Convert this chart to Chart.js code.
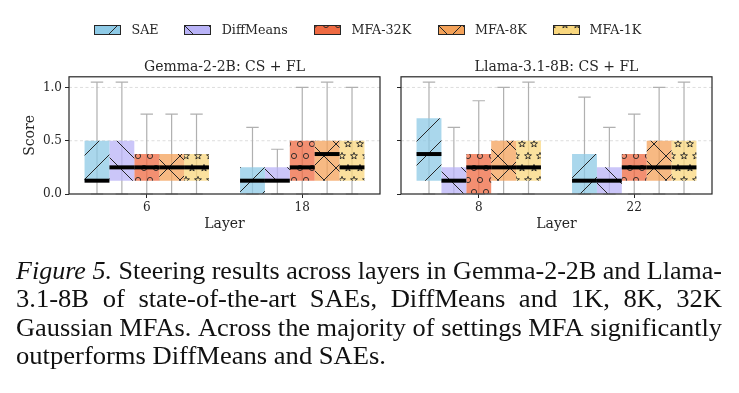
<!DOCTYPE html>
<html>
<head>
<meta charset="utf-8">
<script src="https://cdn.jsdelivr.net/npm/chart.js@4.4.1/dist/chart.umd.min.js"></script>
<style>
html, body { margin: 0; padding: 0; background: #fff; }
#wrap { position: relative; width: 739px; height: 393px; overflow: hidden; }
canvas { position: absolute; top: 0; }
#c1 { left: 0; }
#c2 { left: 390px; }
#cap { left: 0; top: 240px; }
.legtxt { position: absolute; font-family: 'DejaVu Serif'; font-size: 12.7px; line-height: 14px; color: #262626; white-space: nowrap; }
</style>
</head>
<body>
<div id="wrap">
  <canvas id="c1" width="390" height="240"></canvas>
  <canvas id="c2" width="349" height="240"></canvas>
  <canvas id="cap" width="739" height="153"></canvas>
  <div id="legend"></div>
</div>
<script>
// series and categories
const seriesNames = ['SAE', 'DiffMeans', 'MFA-32K', 'MFA-8K', 'MFA-1K'];
const seriesColors = ['#8ecae6', '#b9b3f7', '#ef6a42', '#f4a259', '#f9d77e'];
const seriesHatch = ['/', '\\', 'o', 'x', '*'];
const gemmaLayers = ['6', '18'];
const llamaLayers = ['8', '22'];
const yTicks = [0, 0.5, 1.0];

// Gemma-2-2B, [series][layer]
const gemmaQ1     = [[0.125, 0], [0.125, 0.125], [0.125, 0.125], [0.125, 0.125], [0.125, 0.125]];
const gemmaQ3     = [[0.5, 0.25], [0.5, 0.25], [0.375, 0.5], [0.375, 0.5], [0.375, 0.5]];
const gemmaMedian = [[0.125, 0.125], [0.25, 0.125], [0.25, 0.25], [0.25, 0.375], [0.25, 0.25]];
const gemmaLow    = [[0, 0], [0, 0], [0, 0], [0, 0], [0, 0]];
const gemmaHigh   = [[1.05, 0.625], [1.05, 0.42], [0.75, 1.0], [0.75, 1.05], [0.75, 1.0]];

// Llama-3.1-8B, [series][layer]
const llamaQ1     = [[0.125, 0], [0, 0], [0, 0.125], [0.125, 0.125], [0.125, 0.125]];
const llamaQ3     = [[0.71, 0.375], [0.25, 0.25], [0.375, 0.375], [0.5, 0.5], [0.5, 0.5]];
const llamaMedian = [[0.375, 0.125], [0.125, 0.125], [0.25, 0.25], [0.25, 0.25], [0.25, 0.25]];
const llamaLow    = [[0, 0], [0, 0], [0, 0], [0, 0], [0, 0]];
const llamaHigh   = [[1.05, 0.91], [0.625, 0.625], [0.875, 0.75], [1.0, 1.0], [1.05, 1.05]];

// caption lines; the first two words of line 1 are italic
const captionLines = [
  'Figure 5. Steering results across layers in Gemma-2-2B and Llama-',
  '3.1-8B of state-of-the-art SAEs, DiffMeans and 1K, 8K, 32K',
  'Gaussian MFAs. Across the majority of settings MFA significantly',
  'outperforms DiffMeans and SAEs.'
];

Chart.defaults.font.family = 'DejaVu Serif';
Chart.defaults.color = '#262626';

function withAlpha(hex, a) {
  const n = parseInt(hex.slice(1), 16);
  return 'rgba(' + (n >> 16) + ',' + ((n >> 8) & 255) + ',' + (n & 255) + ',' + a + ')';
}

function star(g, cx, cy, R, r) {
  for (let k = 0; k < 10; k++) {
    const a = -Math.PI / 2 + k * Math.PI / 5;
    const rad = k % 2 ? r : R;
    const x = cx + rad * Math.cos(a), y = cy + rad * Math.sin(a);
    if (k) g.lineTo(x, y); else g.moveTo(x, y);
  }
  g.closePath();
}

function hatchPattern(kind, fill) {
  const T = 24;
  const c = document.createElement('canvas');
  c.width = T; c.height = T;
  const g = c.getContext('2d');
  g.fillStyle = fill;
  g.fillRect(0, 0, T, T);
  g.strokeStyle = '#262626';
  g.lineWidth = 1;
  g.beginPath();
  if (kind === '/' || kind === 'x') {
    for (const o of [-T, 0, T]) { g.moveTo(o - 1, T + 1); g.lineTo(o + T + 1, -1); }
  }
  if (kind === '\\' || kind === 'x') {
    for (const o of [-T, 0, T]) { g.moveTo(o - 1, -1); g.lineTo(o + T + 1, T + 1); }
  }
  g.stroke();
  if (kind === 'o' || kind === '*') {
    g.lineWidth = 0.9;
    for (let r = 0; r <= 2; r++) {
      const y = r * 12, off = r % 2 ? 6 : 0;
      for (let x = off - 12; x <= T + 12; x += 12) {
        g.beginPath();
        if (kind === 'o') g.arc(x, y, 2.6, 0, 2 * Math.PI);
        else star(g, x, y, 3.6, 1.5);
        g.stroke();
      }
    }
  }
  return g.createPattern(c, 'repeat');
}

function boxParts(median, low, high) {
  return {
    id: 'boxParts',
    beforeDatasetsDraw(chart) {
      const { ctx, chartArea: a, scales: { y } } = chart;
      ctx.save();
      ctx.setLineDash([3, 2.5]);
      ctx.strokeStyle = '#d6d6d6';
      ctx.lineWidth = 0.8;
      yTicks.filter(v => v > 0).forEach(v => {
        const py = y.getPixelForValue(v);
        ctx.beginPath(); ctx.moveTo(a.left, py); ctx.lineTo(a.right, py); ctx.stroke();
      });
      ctx.setLineDash([]);
      ctx.strokeStyle = '#b0b0b0';
      ctx.lineWidth = 1.2;
      chart.data.datasets.forEach((ds, i) => {
        chart.getDatasetMeta(i).data.forEach((bar, j) => {
          const yl = y.getPixelForValue(low[i][j]);
          const yh = y.getPixelForValue(high[i][j]);
          const c = bar.width / 4;
          ctx.beginPath();
          ctx.moveTo(bar.x, yl); ctx.lineTo(bar.x, yh);
          ctx.moveTo(bar.x - c, yh); ctx.lineTo(bar.x + c, yh);
          ctx.moveTo(bar.x - c, yl); ctx.lineTo(bar.x + c, yl);
          ctx.stroke();
        });
      });
      ctx.restore();
    },
    afterDatasetsDraw(chart) {
      const { ctx, chartArea: a, scales: { y } } = chart;
      ctx.save();
      ctx.strokeStyle = '#000';
      ctx.lineWidth = 4;
      chart.data.datasets.forEach((ds, i) => {
        chart.getDatasetMeta(i).data.forEach((bar, j) => {
          const ym = y.getPixelForValue(median[i][j]);
          ctx.beginPath();
          ctx.moveTo(bar.x - bar.width / 2, ym);
          ctx.lineTo(bar.x + bar.width / 2, ym);
          ctx.stroke();
        });
      });
      ctx.strokeStyle = '#262626';
      ctx.lineWidth = 1.2;
      ctx.strokeRect(a.left, a.top, a.right - a.left, a.bottom - a.top);
      ctx.restore();
    }
  };
}

function panel(id, layers, title, q1, q3, median, low, high, yWidth, padRight, first) {
  new Chart(document.getElementById(id), {
    type: 'bar',
    data: {
      labels: layers,
      datasets: seriesNames.map((name, i) => ({
        label: name,
        data: layers.map((_, j) => [q1[i][j], q3[i][j]]),
        backgroundColor: hatchPattern(seriesHatch[i], withAlpha(seriesColors[i], 0.75)),
        borderWidth: 0,
        categoryPercentage: 0.8,
        barPercentage: 1.0
      }))
    },
    options: {
      responsive: false,
      animation: false,
      events: [],
      layout: { padding: { top: 59, left: 0, right: padRight, bottom: 0 } },
      plugins: {
        legend: { display: false },
        tooltip: { enabled: false },
        title: {
          display: true, text: title, fullSize: false,
          font: { size: 14, weight: 'normal' }, color: '#262626',
          padding: { top: 0, bottom: 1 }
        }
      },
      scales: {
        x: {
          grid: { drawOnChartArea: false, offset: false, tickLength: 4, tickColor: '#262626', tickWidth: 1 },
          border: { display: false },
          ticks: { font: { size: 12 }, maxRotation: 0, padding: 3 },
          title: { display: true, text: 'Layer', font: { size: 14 }, padding: { top: 0, bottom: 7 } },
          afterFit: s => { s.height = 46; }
        },
        y: {
          min: 0, max: 1.1,
          afterBuildTicks: s => { s.ticks = yTicks.map(v => ({ value: v })); },
          grid: { drawOnChartArea: false, tickLength: 4, tickColor: '#262626', tickWidth: 1 },
          border: { display: false },
          ticks: { font: { size: 12 }, padding: 3, callback: v => first ? Number(v).toFixed(1) : '' },
          title: { display: first, text: 'Score', font: { size: 14 }, padding: { top: 21.6, bottom: 0 } },
          afterFit: s => { s.width = yWidth; }
        }
      }
    },
    plugins: [boxParts(median, low, high)]
  });
}

panel('c1', gemmaLayers, 'Gemma-2-2B: CS + FL', gemmaQ1, gemmaQ3, gemmaMedian, gemmaLow, gemmaHigh, 69, 10, true);
panel('c2', llamaLayers, 'Llama-3.1-8B: CS + FL', llamaQ1, llamaQ3, llamaMedian, llamaLow, llamaHigh, 11, 27, false);

// legend
const legBoxX = [94.3, 184, 314.3, 437.7, 552.8];
const legTextX = [131.5, 221.7, 351.4, 475, 589.6];
const legend = document.getElementById('legend');
seriesNames.forEach((name, i) => {
  const c = document.createElement('canvas');
  c.width = 27; c.height = 10;
  c.style.left = legBoxX[i] + 'px';
  c.style.top = '25px';
  const g = c.getContext('2d');
  g.fillStyle = hatchPattern(seriesHatch[i], seriesColors[i]);
  g.fillRect(0, 0, 27, 10);
  g.strokeStyle = '#262626';
  g.lineWidth = 1;
  g.strokeRect(0.5, 0.5, 26, 9);
  legend.appendChild(c);
  const t = document.createElement('div');
  t.className = 'legtxt';
  t.textContent = name;
  t.style.left = legTextX[i] + 'px';
  t.style.top = '23px';
  legend.appendChild(t);
});

// caption, drawn as justified lines of Times-like text
const cg = document.getElementById('cap').getContext('2d');
const fontUp = '26px "Liberation Serif"';
const fontIt = 'italic 26px "Liberation Serif"';
const baselines = [38.6, 67.2, 95.8, 124.4];
cg.fillStyle = '#111';
cg.textBaseline = 'alphabetic';
function lineWords(text, k) {
  return text.split(' ').map((w, n) => ({ w, font: (k === 0 && n < 2) ? fontIt : fontUp }));
}
function wordWidth(o) { cg.font = o.font; return cg.measureText(o.w).width; }
cg.font = fontUp;
const spaceW = cg.measureText(' ').width;
const natural = captionLines.map((t, k) => {
  const ws = lineWords(t, k);
  return ws.reduce((s, o) => s + wordWidth(o), 0) + spaceW * (ws.length - 1);
});
const sx = 370 / natural[3];
captionLines.forEach((t, k) => {
  const ws = lineWords(t, k);
  let scale = sx, gap = spaceW;
  if (k < 3) {
    if (natural[k] * sx > 706) scale = 706 / natural[k];
    else gap = spaceW + (706 / sx - natural[k]) / (ws.length - 1);
  }
  cg.save();
  cg.translate(16, baselines[k]);
  cg.scale(scale, 1);
  let x = 0;
  ws.forEach(o => {
    cg.font = o.font;
    cg.fillText(o.w, x, 0);
    x += cg.measureText(o.w).width + gap;
  });
  cg.restore();
});
</script>
</body>
</html>
